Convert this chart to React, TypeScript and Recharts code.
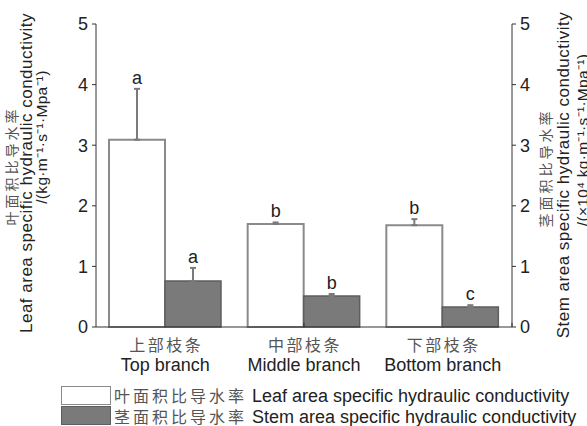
import React from "react";
import { BarChart, Bar, XAxis, YAxis, ErrorBar, LabelList, ReferenceLine } from "recharts";

const catCn = ["上部枝条", "中部枝条", "下部枝条"];
const catEn = ["Top branch", "Middle branch", "Bottom branch"];
const leafVals = [3.09, 1.7, 1.68];
const leafErr = [0.84, 0.025, 0.1];
const stemVals = [0.76, 0.51, 0.33];
const stemErr = [0.215, 0.035, 0.03];
const leafLetters = ["a", "b", "b"];
const stemLetters = ["a", "b", "c"];
const yTicks = [0, 1, 2, 3, 4, 5];
const separators = [1, 2];

const data = catCn.map((c, i) => ({
  cn: c,
  leaf: leafVals[i],
  leafE: [0, leafErr[i]],
  stem: stemVals[i],
  stemE: [0, stemErr[i]],
}));

const EN = "'Liberation Sans', Arial, sans-serif";
const CN = "'Noto Sans CJK SC', sans-serif";
const TXT = "#222";
const CNC = "#555";

const CatTick = (props: any) => {
  const { x, y, payload } = props;
  const i = payload?.index ?? props.index ?? 0;
  return (
    <g>
      <text x={x + 1} y={y + 24} textAnchor="middle" fontSize={16} letterSpacing={2.5} fill={CNC} fontFamily={CN}>
        {catCn[i]}
      </text>
      <text x={x} y={y + 44} textAnchor="middle" fontSize={18} fill={TXT} fontFamily={EN}>
        {catEn[i]}
      </text>
    </g>
  );
};

const makeLetter = (letters: string[], errs: number[], vals: number[]) => (p: any) => {
  const vb = p.viewBox && p.viewBox.width !== undefined ? p.viewBox : p;
  const x = Number(vb.x);
  const y = Number(vb.y);
  const w = Number(vb.width);
  const h = Number(vb.height);
  const idx = p.index;
  const v = vals[idx];
  const errPx = v ? (errs[idx] * h) / v : 0;
  return (
    <text x={x + w / 2} y={y - errPx - 5} textAnchor="middle" fontSize={18} fill={TXT} fontFamily={EN}>
      {letters[idx]}
    </text>
  );
};

export default function App() {
  return (
    <div style={{ position: "absolute", left: 0, top: 0, width: 587, height: 426, background: "#fff" }}>
      <BarChart
        width={587}
        height={426}
        data={data}
        margin={{ top: 24, right: 0, left: 0, bottom: 0 }}
        barGap={0}
        barCategoryGap="9%"
      >
        <XAxis
          dataKey="cn"
          height={99}
          tickLine={false}
          tickSize={0}
          tickMargin={0}
          interval={0}
          axisLine={{ stroke: "#333", strokeWidth: 1 }}
          tick={<CatTick />}
        />
        <XAxis xAxisId="sep" type="number" domain={[0, 3]} hide />
        <YAxis
          yAxisId="left"
          width={96}
          domain={[0, 5]}
          ticks={yTicks}
          tickSize={4}
          tickMargin={4}
          axisLine={{ stroke: "#333" }}
          tickLine={{ stroke: "#333" }}
          tick={{ fontSize: 18, fill: TXT, fontFamily: EN }}
        />
        <YAxis
          yAxisId="right"
          orientation="right"
          width={75}
          domain={[0, 5]}
          ticks={yTicks}
          tickSize={4}
          tickMargin={4}
          axisLine={{ stroke: "#333" }}
          tickLine={{ stroke: "#333" }}
          tick={{ fontSize: 18, fill: TXT, fontFamily: EN }}
        />
        <Bar
          dataKey="leaf"
          yAxisId="left"
          fill="#ffffff"
          stroke="#8a8a8a"
          strokeWidth={2}
          barSize={56}
          isAnimationActive={false}
        >
          <ErrorBar dataKey="leafE" direction="y" width={3} stroke="#7a7a7a" strokeWidth={2} />
          <LabelList dataKey="leaf" content={makeLetter(leafLetters, leafErr, leafVals)} />
        </Bar>
        <Bar
          dataKey="stem"
          yAxisId="right"
          fill="#7a7a7a"
          stroke="#5e5e5e"
          strokeWidth={1.5}
          barSize={56}
          isAnimationActive={false}
        >
          <ErrorBar dataKey="stemE" direction="y" width={3} stroke="#7a7a7a" strokeWidth={2} />
          <LabelList dataKey="stem" content={makeLetter(stemLetters, stemErr, stemVals)} />
        </Bar>
        {separators.map((s) => (
          <ReferenceLine
            key={s}
            xAxisId="sep"
            yAxisId="left"
            segment={[{ x: s, y: 0 }, { x: s, y: 0.07 }]}
            stroke="#333"
            strokeWidth={1}
            ifOverflow="visible"
          />
        ))}
      </BarChart>

      <svg
        width={587}
        height={426}
        style={{ position: "absolute", left: 0, top: 0, pointerEvents: "none" }}
      >
        <text transform="translate(11,166) rotate(-90)" textAnchor="middle" dominantBaseline="central" fontSize={14} letterSpacing={3} fill={CNC} fontFamily={CN}>
          叶面积比导水率
        </text>
        <text transform="translate(26.5,173) rotate(-90)" textAnchor="middle" dominantBaseline="central" fontSize={17} letterSpacing={0.5} fill={TXT} fontFamily={EN}>
          Leaf area specific hydraulic conductivity
        </text>
        <text transform="translate(41.5,137) rotate(-90)" textAnchor="middle" dominantBaseline="central" fontSize={15.5} letterSpacing={0.3} fill={TXT} fontFamily={EN}>
          /(kg·m⁻¹·s⁻¹·Mpa⁻¹)
        </text>

        <text transform="translate(545,168) rotate(-90)" textAnchor="middle" dominantBaseline="central" fontSize={14} letterSpacing={3} fill={CNC} fontFamily={CN}>
          茎面积比导水率
        </text>
        <text transform="translate(563.5,175) rotate(-90)" textAnchor="middle" dominantBaseline="central" fontSize={17} letterSpacing={0.5} fill={TXT} fontFamily={EN}>
          Stem area specific hydraulic conductivity
        </text>
        <text transform="translate(582,140) rotate(-90)" textAnchor="middle" dominantBaseline="central" fontSize={15.5} letterSpacing={0.3} fill={TXT} fontFamily={EN}>
          /(×10⁴ kg·m⁻¹·s⁻¹·Mpa⁻¹)
        </text>
      </svg>

      <div style={{ position: "absolute", left: 0, top: 0, width: 587, height: 426, pointerEvents: "none" }}>
        <div style={{ position: "absolute", left: 61, top: 386, width: 50, height: 19, boxSizing: "border-box", border: "1px solid #8a8a8a", background: "#fff" }} />
        <div style={{ position: "absolute", left: 61, top: 406, width: 50, height: 19, boxSizing: "border-box", border: "1px solid #5e5e5e", background: "#7a7a7a" }} />
        <div style={{ position: "absolute", left: 114, top: 385, whiteSpace: "nowrap", fontSize: 18, lineHeight: "20px", color: TXT, fontFamily: EN }}>
          <span style={{ fontFamily: CN, color: CNC, fontSize: 16, letterSpacing: 3 }}>叶面积比导水率</span> Leaf area specific hydraulic conductivity
        </div>
        <div style={{ position: "absolute", left: 114, top: 406, whiteSpace: "nowrap", fontSize: 18, lineHeight: "20px", color: TXT, fontFamily: EN }}>
          <span style={{ fontFamily: CN, color: CNC, fontSize: 16, letterSpacing: 3 }}>茎面积比导水率</span> Stem area specific hydraulic conductivity
        </div>
      </div>
    </div>
  );
}
